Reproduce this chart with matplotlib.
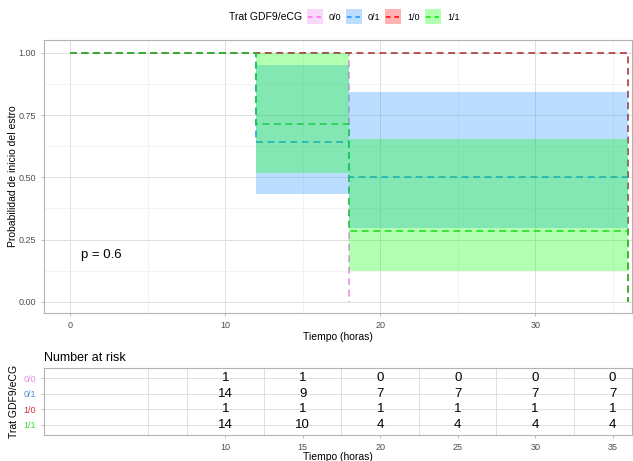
import numpy as np
import matplotlib.pyplot as plt
from matplotlib.patches import Rectangle
from matplotlib.lines import Line2D

plt.rcParams['font.family'] = ['Liberation Sans', 'DejaVu Sans']

groups = ['0/0', '0/1', '1/0', '1/1']
line_colors = ['#EE82EE', '#1E90FF', '#A52A2A', '#22CC22']
key_colors = ['#FF66FF', '#1E90FF', '#FF0000', '#00EE00']
fill_colors = ['#EE82EE', '#1E90FF', '#FF0000', '#00FF00']
label_colors = ['#E58FE5', '#4A90D9', '#D93030', '#33DD33']

# survival steps (time, probability) per group
t_00 = [0, 18]
s_00 = [1.0, 0.0]
t_01 = [0, 12, 18, 36]
s_01 = [1.0, 0.643, 0.5, 0.5]
lo_01 = [1.0, 0.435, 0.296, 0.296]
hi_01 = [1.0, 0.95, 0.845, 0.845]
t_10 = [0, 36]
s_10 = [1.0, 0.0]
t_11 = [0, 12, 18, 36]
s_11 = [1.0, 0.714, 0.286, 0.0]
lo_11 = [1.0, 0.518, 0.125, 0.125]
hi_11 = [1.0, 1.0, 0.654, 0.654]

pval = 0.6

risk_times = [10, 15, 20, 25, 30, 35]
risk_00 = [1, 1, 0, 0, 0, 0]
risk_01 = [14, 9, 7, 7, 7, 7]
risk_10 = [1, 1, 1, 1, 1, 1]
risk_11 = [14, 10, 4, 4, 4, 4]

W, H = 633, 461
fig = plt.figure(figsize=(W / 100, H / 100), dpi=100)


def frac(x0, y0, x1, y1):
    # pixel box -> figure fraction [left, bottom, width, height]
    return [x0 / W, 1 - y1 / H, (x1 - x0) / W, (y1 - y0) / H]


grid_major = '#DEDEDE'
grid_minor = '#EFEFEF'
border = '#B3B3B3'
tick_txt = '#4D4D4D'
dash = (4.5, 3)


def style_axes(ax):
    for sp in ax.spines.values():
        sp.set_color(border)
        sp.set_linewidth(0.8)
    ax.tick_params(length=2.5, color=border, labelcolor=tick_txt, labelsize=6.5, width=0.6)
    ax.tick_params(which='minor', length=0)
    ax.set_axisbelow(True)


# ---- survival curves ----
ax = fig.add_axes(frac(44, 40, 632, 313))
style_axes(ax)
ax.set_xlim(-1.7, 36.25)
ax.set_ylim(-0.045, 1.052)
ax.set_xticks([0, 10, 20, 30])
ax.set_xticks([5, 15, 25, 35], minor=True)
ax.set_yticks([0, 0.25, 0.5, 0.75, 1.0])
ax.set_yticklabels(['0.00', '0.25', '0.50', '0.75', '1.00'])
ax.set_yticks([0.125, 0.375, 0.625, 0.875], minor=True)
ax.grid(which='major', color=grid_major, lw=0.7)
ax.grid(which='minor', color=grid_minor, lw=0.5)

curves = [(t_00, s_00), (t_01, s_01), (t_10, s_10), (t_11, s_11)]
for (t, s), c in zip(curves, line_colors):
    ax.step(t, s, where='post', color=c, lw=1.1, dashes=dash, zorder=2)

ax.fill_between(t_01, lo_01, hi_01, step='post', color=fill_colors[1], alpha=0.3, lw=0, zorder=3)
ax.fill_between(t_11, lo_11, hi_11, step='post', color=fill_colors[3], alpha=0.3, lw=0, zorder=3)

ax.text(0.7, 0.19, f'p = {pval}', fontsize=9.5, ha='left', va='center')
ax.set_xlabel('Tiempo (horas)', fontsize=7.5, labelpad=1)
ax.set_ylabel('Probabilidad de inicio del estro', fontsize=7.5, labelpad=2)
ax.yaxis.set_label_coords(-0.045, 0.5)

# ---- legend on top ----
fig.text(229 / W, 1 - 17 / H, 'Trat GDF9/eCG', fontsize=7.5, ha='left', va='center')
key_x = [307, 346, 385, 425]
for g, x0, kc, fc in zip(groups, key_x, key_colors, fill_colors):
    fig.patches.append(Rectangle((x0 / W, 1 - 24 / H), 16 / W, 15 / H, transform=fig.transFigure,
                                 facecolor=fc, alpha=0.3, edgecolor='none'))
    fig.lines.append(Line2D([(x0 + 1) / W, (x0 + 15) / W], [1 - 17 / H, 1 - 17 / H],
                            transform=fig.transFigure, color=kc, lw=1.1, dashes=(3, 2.5)))
    fig.text((x0 + 22) / W, 1 - 17 / H, g, fontsize=6.5, ha='left', va='center')

# ---- number at risk table ----
ax2 = fig.add_axes(frac(44, 368, 632, 435))
style_axes(ax2)
ax2.set_xlim(-1.7, 36.25)
ax2.set_ylim(0.36, 4.64)
ax2.set_xticks(risk_times)
ax2.set_xticks([5, 7.5, 12.5, 17.5, 22.5, 27.5, 32.5], minor=True)
ax2.grid(which='minor', axis='x', color=grid_major, lw=0.7)
ax2.grid(which='major', axis='y', color=grid_major, lw=0.7)
rows = [4, 3, 2, 1]
ax2.set_yticks(rows)
ax2.set_yticklabels(groups)
for lbl, c in zip(ax2.get_yticklabels(), label_colors):
    lbl.set_color(c)
for r, counts in zip(rows, [risk_00, risk_01, risk_10, risk_11]):
    for t, n in zip(risk_times, counts):
        ax2.text(t, r, str(n), ha='center', va='center', fontsize=9.5)
ax2.set_xlabel('Tiempo (horas)', fontsize=7.5, labelpad=0)
ax2.set_ylabel('Trat GDF9/eCG', fontsize=7.5, labelpad=3)
ax2.set_title('Number at risk', fontsize=9, loc='left', pad=5)

fig.savefig('out.png', dpi=100)
